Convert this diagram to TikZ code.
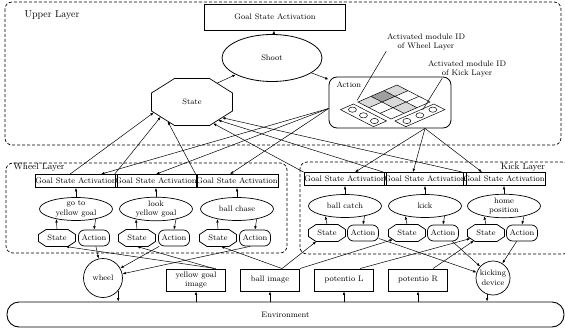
\documentclass[tikz,border=0pt]{standalone}
\usetikzlibrary{positioning,shapes.geometric,arrows.meta}

% octagon round a rectangular node: node name, chamfer x, chamfer y
\newcommand{\drawoct}[3]{%
  \draw[line width=0.7pt] ([xshift=#2]#1.north west) -- ([xshift=-#2]#1.north east)
    -- ([yshift=-#3]#1.north east) -- ([yshift=#3]#1.south east)
    -- ([xshift=-#2]#1.south east) -- ([xshift=#2]#1.south west)
    -- ([yshift=#3]#1.south west) -- ([yshift=-#3]#1.north west) -- cycle;}

\begin{document}
\begin{tikzpicture}[
  x=1pt, y=-1pt,
  font=\fontsize{8}{9.5}\selectfont,
  >={Latex[length=3.5pt,width=2.6pt]},
  line width=0.5pt,
  on grid,
  layer/.style={draw, dash pattern=on 3pt off 2pt, line width=0.7pt, rounded corners=7pt},
  gsa/.style={rectangle, draw, line width=0.7pt, minimum height=13pt, inner xsep=0.5pt, inner ysep=0pt},
  module/.style={ellipse, draw, line width=0.7pt, minimum width=73pt, minimum height=23pt, inner sep=0pt, align=center},
  stbox/.style={rectangle, minimum width=37pt, minimum height=17pt, inner sep=0pt, outer sep=0pt},
  actbox/.style={rectangle, rounded corners=6pt, draw, line width=0.7pt, minimum width=31pt, minimum height=16pt, inner sep=0pt},
  sensor/.style={rectangle, draw, line width=0.9pt, minimum width=59pt, minimum height=22pt, inner sep=1pt, align=center},
  device/.style={circle, draw, line width=0.7pt, inner sep=0pt, align=center},
  layerlabel/.style={font=\fontsize{9}{11}\selectfont}
]
\useasboundingbox (0,0) rectangle (565,329);

% Upper layer
\draw[layer] (5,2) rectangle (561,145);
\node[font=\fontsize{10}{12}\selectfont] (upLab) at (52,15) {Upper Layer};
\node[rectangle, draw, line width=0.9pt, minimum width=141pt, minimum height=26pt] (goalUp) at (275,17) {Goal State Activation};
\node[ellipse, draw, line width=0.8pt, minimum width=100pt, minimum height=47pt] (shoot) at (272,58) {Shoot};
\node[stbox, minimum width=81pt, minimum height=47pt] (stateUp) at (192,102) {State};
\drawoct{stateUp}{23pt}{14.5pt}
\node[actbox, line width=0.8pt, rounded corners=8pt, minimum width=122pt, minimum height=51pt] (actionUp) at (390,102.5) {};
\node[anchor=north west] (actLab) at (333,78) {Action};

% Module ID grid
\begin{scope}[shift={(397,85)}, x={(11pt,-5.67pt)}, y={(-13pt,-5.67pt)}]
  \fill[gray!30] (0,0) -- (1,0) -- (1,1) -- (0,1) -- cycle;
  \fill[gray!30] (0,2) -- (1,2) -- (1,3) -- (0,3) -- cycle;
  \fill[gray!30] (1,1) -- (2,1) -- (2,2) -- (1,2) -- cycle;
  \fill[gray!30] (2,1) -- (3,1) -- (3,2) -- (2,2) -- cycle;
  \fill[gray!75] (0,1) -- (1,1) -- (1,2) -- (0,2) -- cycle;
  \draw (0,0) -- (3,0) -- (3,3) -- (0,3) -- cycle;
  \draw (1,0) -- (1,3) (2,0) -- (2,3) (0,1) -- (3,1) (0,2) -- (3,2);
  % wheel strip
  \draw (0,3.35) -- (3,3.35) -- (3,4.35) -- (0,4.35) -- cycle;
  \draw (0.5,3.85) circle [x radius=4pt, y radius=2.6pt]
        (1.5,3.85) circle [x radius=4pt, y radius=2.6pt]
        (2.5,3.85) circle [x radius=4pt, y radius=2.6pt];
  % kick strip
  \draw (3.35,0) -- (4.35,0) -- (4.35,3) -- (3.35,3) -- cycle;
  \draw (3.85,0.5) circle [x radius=4pt, y radius=2.6pt]
        (3.85,1.5) circle [x radius=4pt, y radius=2.6pt]
        (3.85,2.5) circle [x radius=4pt, y radius=2.6pt];
  \coordinate (wPt) at (-0.2,2.9);
  \coordinate (kPt) at (3.45,0.95);
\end{scope}
\node[align=center, inner sep=0.5pt] (wLabID) at (426,42) {Activated module ID\\of Wheel Layer};
\node[align=center, inner sep=0.5pt] (kLabID) at (467,69) {Activated module ID\\of Kick Layer};
\draw (wLabID.south west) -- (wPt);
\draw ([xshift=15pt]kLabID.south west) -- (kPt);

% Upper arrows
\draw[->] ([xshift=-15.5pt,yshift=-4.7pt]stateUp.north east) -- (shoot);
\draw[->] (shoot) -- (goalUp);
\draw[->] (shoot) -- (actionUp);

% Wheel layer
\draw[layer] (6,163) rectangle (287,253);
\node[layerlabel] (wLab) at (39,167) {Wheel Layer};
\node[gsa] (gsaW1) at (76,181) {Goal State Activation};
\node[gsa] (gsaW2) at (156,181) {Goal State Activation};
\node[gsa] (gsaW3) at (237,181) {Goal State Activation};
\node[module, below=28pt of gsaW1] (goYg) {go to\\yellow goal};
\node[module, below=28pt of gsaW2] (lookYg) {look\\yellow goal};
\node[module, below=28pt of gsaW3] (chase) {ball chase};
\node[stbox, below left=29pt and 19pt of goYg] (stW1) {State};
\node[actbox, below right=29pt and 18pt of goYg] (actW1) {Action};
\node[stbox, below left=29pt and 19pt of lookYg] (stW2) {State};
\node[actbox, below right=29pt and 18pt of lookYg] (actW2) {Action};
\node[stbox, below left=29pt and 19pt of chase] (stW3) {State};
\node[actbox, below right=29pt and 18pt of chase] (actW3) {Action};
\drawoct{stW1}{7.5pt}{5pt}
\drawoct{stW2}{7.5pt}{5pt}
\drawoct{stW3}{7.5pt}{5pt}

% Kick layer
\draw[layer] (300,162) rectangle (570,254);
\node[layerlabel] (kLab) at (523,167) {Kick Layer};
\node[gsa] (gsaK1) at (345,179) {Goal State Activation};
\node[gsa] (gsaK2) at (425,179) {Goal State Activation};
\node[gsa] (gsaK3) at (504,179) {Goal State Activation};
\node[module, below=27pt of gsaK1] (catch) {ball catch};
\node[module, below=27pt of gsaK2] (kick) {kick};
\node[module, below=27pt of gsaK3] (home) {home\\position};
\node[stbox, below left=27pt and 18pt of catch] (stK1) {State};
\node[actbox, below right=27pt and 18pt of catch] (actK1) {Action};
\node[stbox, below left=27pt and 18pt of kick] (stK2) {State};
\node[actbox, below right=27pt and 18pt of kick] (actK2) {Action};
\node[stbox, below left=27pt and 18pt of home] (stK3) {State};
\node[actbox, below right=27pt and 18pt of home] (actK3) {Action};
\drawoct{stK1}{7.5pt}{5pt}
\drawoct{stK2}{7.5pt}{5pt}
\drawoct{stK3}{7.5pt}{5pt}

% Module arrows
\draw[->] (stW1.north) -- (goYg.207);
\draw[->] (goYg.333) -- (actW1.north);
\draw[->] (goYg) -- (gsaW1);
\draw[->] (stW2.north) -- (lookYg.207);
\draw[->] (lookYg.333) -- (actW2.north);
\draw[->] (lookYg) -- (gsaW2);
\draw[->] (stW3.north) -- (chase.207);
\draw[->] (chase.333) -- (actW3.north);
\draw[->] (chase) -- (gsaW3);
\draw[->] (stK1.north) -- (catch.207);
\draw[->] (catch.333) -- (actK1.north);
\draw[->] (catch) -- (gsaK1);
\draw[->] (stK2.north) -- (kick.207);
\draw[->] (kick.333) -- (actK2.north);
\draw[->] (kick) -- (gsaK2);
\draw[->] (stK3.north) -- (home.207);
\draw[->] (home.333) -- (actK3.north);
\draw[->] (home) -- (gsaK3);

% Layers to upper State / Action
\draw[->] ([xshift=-6pt]gsaW1.north) -- ([xshift=2.3pt,yshift=13pt]stateUp.south west);
\draw[->] (gsaW2.north west) -- ([xshift=9.2pt,yshift=8.7pt]stateUp.south west);
\draw[->] (gsaW3.north west) -- ([xshift=16.1pt,yshift=4.3pt]stateUp.south west);
\draw[->] (gsaK1.north west) -- ([xshift=-19.5pt,yshift=2.2pt]stateUp.south east);
\draw[->] (gsaK2.north west) -- ([xshift=-14.5pt,yshift=5.4pt]stateUp.south east);
\draw[->] (gsaK3.north west) -- ([xshift=-10.5pt,yshift=7.8pt]stateUp.south east);
\draw[->] ([yshift=-6pt]actionUp.west) -- ([xshift=25pt]gsaW1.north);
\draw[->] ([yshift=-6pt]actionUp.west) -- (gsaW2.north);
\draw[->] ([yshift=-6pt]actionUp.west) -- ([xshift=-7pt]gsaW3.north);
\draw[->] ([xshift=35pt]actionUp.south) -- ([xshift=10pt]gsaK1.north);
\draw[->] ([xshift=35pt]actionUp.south) -- ([xshift=-12pt]gsaK2.north);
\draw[->] ([xshift=35pt]actionUp.south) -- ([xshift=-22pt]gsaK3.north);

% Devices and sensors
\node[device, minimum size=39pt] (wheel) at (103,278) {wheel};
\node[sensor] (ygImg) at (196,280) {yellow goal\\image};
\node[sensor] (ballImg) at (270,280) {ball image};
\node[sensor] (potL) at (344,280) {potentio L};
\node[sensor] (potR) at (418,280) {potentio R};
\node[device, minimum size=34pt] (kickDev) at (493,278) {kicking\\device};
\node[rectangle, draw, rounded corners=12pt, line width=0.9pt, minimum width=557pt, minimum height=25pt] (env) at (285.5,314.5) {Environment};

% Sensors to states
\draw[->] ([xshift=-10pt]ygImg.north east) -- (stW1.-45);
\draw[->] ([xshift=-12pt]ygImg.north east) -- (stW2.south);
\draw[->] ([xshift=12pt]ballImg.north) -- (stW3.-70);
\draw[->] ([xshift=12pt]ballImg.north) -- (stK1);
\draw[->] (ballImg.north east) -- ([xshift=4.5pt,yshift=2pt]stK2.south west);
\draw[->] ([xshift=16pt]potL.north) -- ([xshift=3pt,yshift=3pt]stK3.south west);
\draw[->] ([xshift=15pt]potR.north) -- ([xshift=6.4pt,yshift=0.8pt]stK3.south west);

% Actions to devices
\draw[->] (actW1) -- (wheel);
\draw[->] (actW2) -- (wheel);
\draw[->] (actW3.240) -- (wheel);
\draw[->] (actK1) -- (kickDev);
\draw[->] (actK2) -- (kickDev);
\draw[->] (actK3) -- (kickDev);

% Environment
\draw[->] (wheel.-40) -- (wheel.-40 |- env.north);
\draw[->] (env.north -| ygImg) -- (ygImg);
\draw[->] (env.north -| ballImg) -- (ballImg);
\draw[->] (env.north -| potL) -- (potL);
\draw[->] (env.north -| potR) -- (potR);
\draw[->] (kickDev.250) -- (kickDev.250 |- env.north);

\end{tikzpicture}
\end{document}
